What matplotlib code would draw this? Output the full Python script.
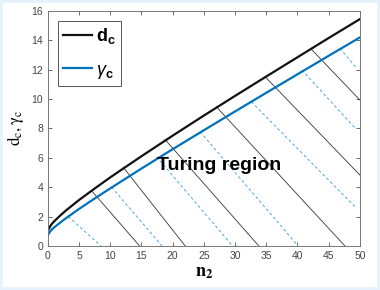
import matplotlib
matplotlib.use("Agg")
import matplotlib.pyplot as plt
from matplotlib.patches import Rectangle

plt.rcParams['font.family'] = ['Liberation Sans', 'DejaVu Sans']
plt.rcParams['mathtext.fontset'] = 'custom'
plt.rcParams['mathtext.rm'] = 'Liberation Sans'
plt.rcParams['mathtext.bf'] = 'Liberation Sans:bold'
plt.rcParams['mathtext.it'] = 'Liberation Sans:italic'

# curves
n2 = [0, 0.5, 1, 2, 3, 5, 7.5, 10, 15, 20, 25, 30, 35, 40, 45, 50]
d_c = [1.05, 1.43, 1.67, 2.08, 2.45, 3.13, 3.91, 4.67, 6.11, 7.51,
       8.88, 10.22, 11.54, 12.85, 14.16, 15.45]
gamma_c = [0.75, 1.06, 1.26, 1.60, 1.92, 2.52, 3.23, 3.92, 5.27, 6.59,
           7.88, 9.16, 10.43, 11.69, 12.95, 14.2]

# hatching of the Turing region (start on curve -> end on axis/edge)
black_x0 = [7.0, 12.07, 18.75, 27.0, 34.8, 42.1]
black_y0 = [3.76, 5.36, 7.26, 9.48, 11.53, 13.45]
black_x1 = [14.7, 22.0, 33.8, 47.6, 50.0, 50.0]
black_y1 = [0, 0, 0, 0, 4.83, 9.94]

blue_x0 = [3.26, 10.2, 17.4, 24.4, 32.6, 40.7, 46.8]
blue_y0 = [2.0, 4.0, 6.08, 7.78, 9.82, 11.98, 13.46]
blue_x1 = [8.5, 18.3, 29.6, 40.1, 49.3, 49.3, 49.5]
blue_y1 = [0, 0, 0, 0, 2.63, 8.0, 12.1]

fig = plt.figure(figsize=(3.8, 2.9), dpi=100)
ax = fig.add_axes([0.126, 0.152, 0.821, 0.810])

for i in range(len(black_x0)):
    ax.plot([black_x0[i], black_x1[i]], [black_y0[i], black_y1[i]],
            color='#333333', lw=0.6)
for i in range(len(blue_x0)):
    ax.plot([blue_x0[i], blue_x1[i]], [blue_y0[i], blue_y1[i]],
            color='#4da6e0', lw=0.7, ls=(0, (3, 2.5)))

ax.plot(n2, d_c, color='#111111', lw=1.6, label=r'$\mathbf{d_c}$')
ax.plot(n2, gamma_c, color='#0072bd', lw=1.6, label=r'$\gamma_{\mathbf{c}}$')

ax.text(17.5, 5.45, 'Turing region', fontsize=14, fontweight='bold',
        va='center', ha='left')

ax.set_xlim(0, 50)
ax.set_ylim(0, 16)
ax.set_xticks(range(0, 51, 5))
ax.set_yticks(range(0, 17, 2))
ax.tick_params(direction='in', top=True, right=True, labelsize=7.5,
               colors='#555555', labelcolor='#444444', length=3, width=0.6)
for s in ax.spines.values():
    s.set_color('#777777')
    s.set_linewidth(0.7)

ax.set_xlabel(r'$\mathbf{n_2}$', fontsize=13, labelpad=2)
ax.set_ylabel(r'$\mathrm{d_c,\gamma_c}$', fontsize=12, labelpad=4)
ax.xaxis.label.set_math_fontfamily('stix')
ax.yaxis.label.set_math_fontfamily('stix')

leg = ax.legend(loc='upper left', fontsize=13, handlelength=1.6,
                fancybox=False, framealpha=1, edgecolor='#555555',
                borderaxespad=0.55, labelspacing=0.85, handletextpad=0.2,
                borderpad=0.3)
leg.get_frame().set_linewidth(0.7)

fig.patches.append(Rectangle((0, 0), 1, 1, transform=fig.transFigure,
                             fill=False, edgecolor='#e4f3fb', lw=4))

fig.savefig('out.png', dpi=100)
